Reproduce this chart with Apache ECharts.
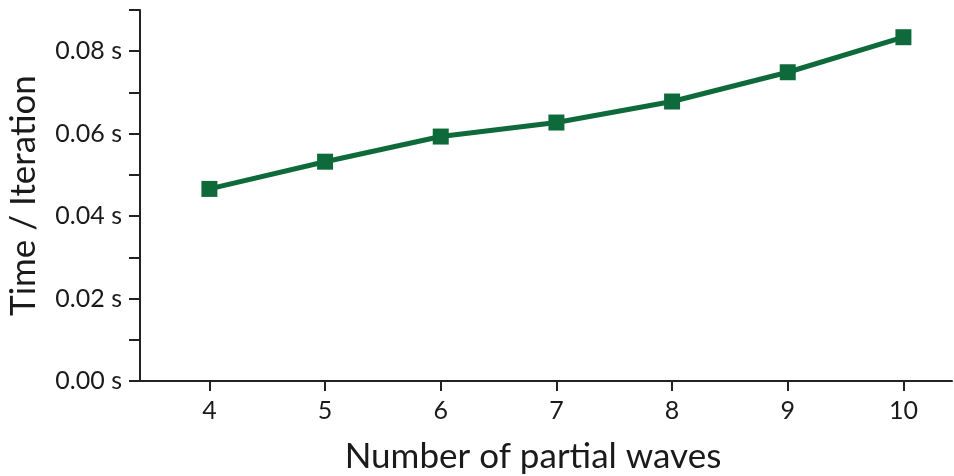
<!DOCTYPE html>
<html>
<head>
<meta charset="utf-8">
<script src="https://cdn.jsdelivr.net/npm/echarts@6/dist/echarts.min.js"></script>
<style>
html, body { margin: 0; padding: 0; background: #fff; }
#main { width: 954px; height: 476px; }
</style>
</head>
<body>
<div id="main"></div>
<script>
// data
var waves = [4, 5, 6, 7, 8, 9, 10];
var times = [0.0466, 0.0532, 0.0593, 0.0627, 0.0678, 0.0749, 0.0834];

var font = 'Lato';
var ink = '#1a1a1a';

var chart = echarts.init(document.getElementById('main'));

var option = {
    animation: false,
    grid: { left: 140, right: 2, top: 10, bottom: 95, containLabel: false, outerBoundsMode: 'none' },
    xAxis: {
        type: 'value',
        min: 3.4,
        max: 10.42,
        name: 'Number of partial waves',
        nameLocation: 'middle',
        nameGap: 58,
        nameTextStyle: { fontFamily: font, fontSize: 35, color: ink, padding: [0, 26, 0, 0] },
        axisLine: { onZero: false, lineStyle: { color: '#222', width: 2 } },
        axisTick: { show: true, customValues: waves, length: 10, lineStyle: { color: '#222', width: 2 } },
        axisLabel: { customValues: waves, fontFamily: font, fontSize: 25, color: ink, margin: 17 },
        splitLine: { show: false }
    },
    yAxis: {
        type: 'value',
        min: 0,
        max: 0.09,
        interval: 0.01,
        name: 'Time / Iteration',
        nameLocation: 'middle',
        nameGap: 99,
        nameTextStyle: { fontFamily: font, fontSize: 35, color: ink },
        axisLine: { show: true, lineStyle: { color: '#222', width: 2 } },
        axisTick: { show: true, length: 11, lineStyle: { color: '#222', width: 2 } },
        axisLabel: {
            fontFamily: font, fontSize: 25, color: ink, margin: 18,
            formatter: function (v) {
                var k = Math.round(v * 100);
                return k % 2 === 0 ? (k / 100).toFixed(2) + ' s' : '';
            }
        },
        splitLine: { show: false }
    },
    series: [{
        type: 'line',
        data: waves.map(function (w, i) { return [w, times[i]]; }),
        symbol: 'rect',
        symbolSize: 16,
        lineStyle: { color: '#0e6a3a', width: 5 },
        itemStyle: { color: '#0e6a3a' }
    }]
};

chart.setOption(option);
</script>
</body>
</html>
